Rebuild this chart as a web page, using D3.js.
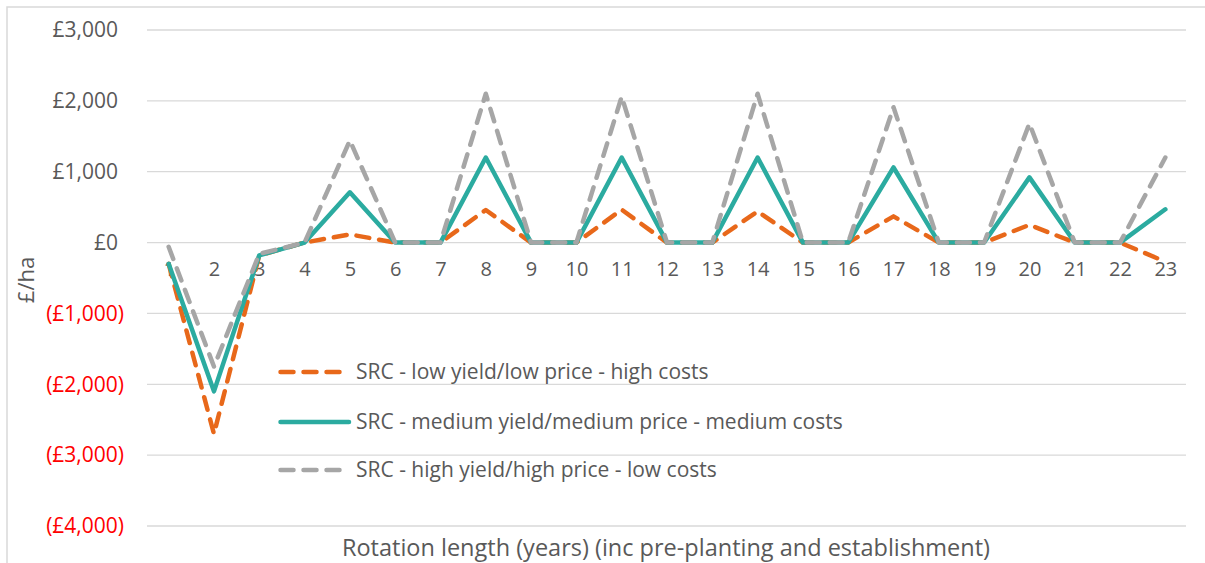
<!DOCTYPE html>
<html>
<head>
<meta charset="utf-8">
<script src="https://cdn.jsdelivr.net/npm/d3@7"></script>
<style>
  html, body { margin: 0; padding: 0; background: #fff; }
  svg { display: block; font-family: "Open Sans", "Noto Sans", sans-serif; }
</style>
</head>
<body>
<svg id="chart" width="1205" height="563"></svg>
<script>
// Rotation years (inc pre-planting and establishment)
const years = d3.range(1, 24).map(String);

// Net margin per year, £/ha, for each SRC scenario
const lowValues = [-300, -2700, -180, 0, 115, 0, 0, 460, 0, 0, 465, 0, 0, 440, 0, 0, 370, 0, 0, 250, 0, 0, -270];
const mediumValues = [-300, -2100, -180, 0, 710, 0, 0, 1200, 0, 0, 1200, 0, 0, 1200, 0, 0, 1060, 0, 0, 920, 0, 0, 470];
const highValues = [-60, -1750, -160, 0, 1440, 0, 0, 2100, 0, 0, 2060, 0, 0, 2100, 0, 0, 1910, 0, 0, 1680, 0, 0, 1200];

const seriesNames = [
  "SRC - low yield/low price - high costs",
  "SRC - medium yield/medium price - medium costs",
  "SRC - high yield/high price - low costs"
];

const yTicks = [3000, 2000, 1000, 0, -1000, -2000, -3000, -4000];

const yTitle = "£/ha";
const xTitle = "Rotation length (years) (inc pre-planting and establishment)";

// styling for each series: orange dashed, teal solid, grey dashed
const series = [
  { name: seriesNames[0], values: lowValues, color: "#E8681A", dash: "13 10" },
  { name: seriesNames[1], values: mediumValues, color: "#2BABA0", dash: null },
  { name: seriesNames[2], values: highValues, color: "#A6A6A6", dash: "13 10" }
];

const svg = d3.select("#chart");
const textColor = "#595959";
const gridColor = "#D9D9D9";

// outer chart border
svg.append("rect")
  .attr("x", 7).attr("y", 7)
  .attr("width", 1220).attr("height", 580)
  .attr("fill", "none")
  .attr("stroke", "#D9D9D9")
  .attr("stroke-width", 1.5);

const plot = { left: 146, right: 1188, top: 30, bottom: 526 };

const x = d3.scalePoint()
  .domain(years)
  .range([plot.left, plot.right])
  .padding(0.5);

const y = d3.scaleLinear()
  .domain([-4000, 3000])
  .range([plot.bottom, plot.top]);

// horizontal gridlines
svg.append("g")
  .selectAll("line")
  .data(yTicks)
  .join("line")
  .attr("x1", plot.left + 1)
  .attr("x2", plot.right - 2)
  .attr("y1", d => y(d))
  .attr("y2", d => y(d))
  .attr("stroke", gridColor)
  .attr("stroke-width", 1.3);

// y axis labels: negatives in red with parentheses
const fmt = d3.format(",");
const yAxis = d3.axisLeft(y)
  .tickValues(yTicks)
  .tickSize(0)
  .tickPadding(0)
  .tickFormat(d => d < 0 ? `(£${fmt(-d)})` : `£${fmt(d)}`);

const yg = svg.append("g")
  .attr("transform", "translate(124,0)")
  .call(yAxis);
yg.select(".domain").remove();
yg.selectAll("text")
  .attr("font-family", "Open Sans")
  .attr("font-size", 21)
  .attr("fill", d => d < 0 ? "#FF0000" : textColor)
  .attr("dx", d => d < 0 ? 0 : -6);

// x axis category labels sit just under the zero line
const xAxis = d3.axisBottom(x).tickSize(0).tickPadding(19);
const xg = svg.append("g")
  .attr("transform", `translate(0,${y(0)})`)
  .call(xAxis);
xg.select(".domain").remove();
xg.selectAll("text")
  .attr("font-family", "Open Sans")
  .attr("font-size", 20)
  .attr("fill", textColor);

// axis titles
svg.append("text")
  .attr("transform", "translate(34,280) rotate(-90)")
  .attr("text-anchor", "middle")
  .attr("font-size", 22)
  .attr("fill", textColor)
  .text(yTitle);

svg.append("text")
  .attr("x", 666)
  .attr("y", 556)
  .attr("text-anchor", "middle")
  .attr("font-size", 23.5)
  .attr("fill", textColor)
  .text(xTitle);

// series lines
const line = d3.line()
  .x((d, i) => x(years[i]))
  .y(d => y(d));

svg.append("g")
  .selectAll("path")
  .data(series)
  .join("path")
  .attr("d", d => line(d.values))
  .attr("fill", "none")
  .attr("stroke", d => d.color)
  .attr("stroke-width", 4.5)
  .attr("stroke-linejoin", "round")
  .attr("stroke-linecap", "round")
  .attr("stroke-dasharray", d => d.dash);

// legend
const legendRows = [372, 422, 470];
const legend = svg.append("g")
  .selectAll("g")
  .data(series)
  .join("g")
  .attr("transform", (d, i) => `translate(0,${legendRows[i]})`);

legend.append("line")
  .attr("x1", 280.5)
  .attr("x2", 349)
  .attr("stroke", d => d.color)
  .attr("stroke-width", 4.5)
  .attr("stroke-linecap", "round")
  .attr("stroke-dasharray", d => d.dash);

legend.append("text")
  .attr("x", 356)
  .attr("dy", "0.35em")
  .attr("font-size", 21)
  .attr("fill", textColor)
  .text(d => d.name);
</script>
</body>
</html>
